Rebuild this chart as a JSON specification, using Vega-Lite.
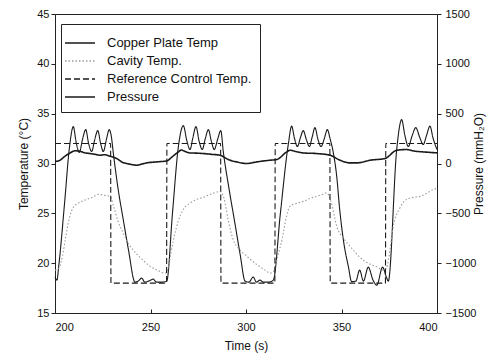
{
  "$schema": "https://vega.github.io/schema/vega-lite/v6.json",
  "width": 382,
  "height": 299,
  "autosize": {"type": "none"},
  "padding": {"left": 55, "top": 14, "right": 65, "bottom": 46},
  "background": "white",
  "config": {
    "font": "Liberation Sans",
    "view": {"stroke": "#222", "strokeWidth": 1},
    "axis": {"grid": false, "domainColor": "#222", "tickColor": "#222", "labelColor": "#111", "titleColor": "#111", "labelFontSize": 11, "titleFontSize": 12, "titleFontWeight": "normal"}
  },
  "datasets": {
    "temp": [
      {"series": "Copper Plate Temp", "time": 200, "value": 18.6},
      {"series": "Copper Plate Temp", "time": 201, "value": 18.3},
      {"series": "Copper Plate Temp", "time": 202, "value": 19.8},
      {"series": "Copper Plate Temp", "time": 205, "value": 26},
      {"series": "Copper Plate Temp", "time": 207.5, "value": 31.5},
      {"series": "Copper Plate Temp", "time": 209.6, "value": 33.7},
      {"series": "Copper Plate Temp", "time": 211, "value": 32.2},
      {"series": "Copper Plate Temp", "time": 212.7, "value": 31.1},
      {"series": "Copper Plate Temp", "time": 214.5, "value": 32.5},
      {"series": "Copper Plate Temp", "time": 216.1, "value": 33.4},
      {"series": "Copper Plate Temp", "time": 217.6, "value": 32},
      {"series": "Copper Plate Temp", "time": 219.2, "value": 31.2},
      {"series": "Copper Plate Temp", "time": 220.8, "value": 32.4},
      {"series": "Copper Plate Temp", "time": 222.4, "value": 33.3},
      {"series": "Copper Plate Temp", "time": 223.9, "value": 32},
      {"series": "Copper Plate Temp", "time": 225.3, "value": 31.2},
      {"series": "Copper Plate Temp", "time": 227, "value": 32.5},
      {"series": "Copper Plate Temp", "time": 228.4, "value": 33.4},
      {"series": "Copper Plate Temp", "time": 229.5, "value": 32.7},
      {"series": "Copper Plate Temp", "time": 230.5, "value": 31.1},
      {"series": "Copper Plate Temp", "time": 233, "value": 27.5},
      {"series": "Copper Plate Temp", "time": 235.8, "value": 24.3},
      {"series": "Copper Plate Temp", "time": 238.5, "value": 21.3},
      {"series": "Copper Plate Temp", "time": 241.9, "value": 18.1},
      {"series": "Copper Plate Temp", "time": 243.5, "value": 18.2},
      {"series": "Copper Plate Temp", "time": 245.4, "value": 18.5},
      {"series": "Copper Plate Temp", "time": 247, "value": 18.1},
      {"series": "Copper Plate Temp", "time": 249, "value": 18.2},
      {"series": "Copper Plate Temp", "time": 251.5, "value": 18.4},
      {"series": "Copper Plate Temp", "time": 253, "value": 18.1},
      {"series": "Copper Plate Temp", "time": 256, "value": 18.1},
      {"series": "Copper Plate Temp", "time": 258.5, "value": 18.2},
      {"series": "Copper Plate Temp", "time": 261.5, "value": 25},
      {"series": "Copper Plate Temp", "time": 264.6, "value": 31.7},
      {"series": "Copper Plate Temp", "time": 267.2, "value": 33.8},
      {"series": "Copper Plate Temp", "time": 269, "value": 32.3},
      {"series": "Copper Plate Temp", "time": 270.7, "value": 31.4},
      {"series": "Copper Plate Temp", "time": 272.2, "value": 32.6},
      {"series": "Copper Plate Temp", "time": 273.8, "value": 33.7},
      {"series": "Copper Plate Temp", "time": 275.5, "value": 32.2},
      {"series": "Copper Plate Temp", "time": 277.1, "value": 31.4},
      {"series": "Copper Plate Temp", "time": 278.7, "value": 32.5},
      {"series": "Copper Plate Temp", "time": 280.3, "value": 33.4},
      {"series": "Copper Plate Temp", "time": 281.9, "value": 32.2},
      {"series": "Copper Plate Temp", "time": 283.4, "value": 31.4},
      {"series": "Copper Plate Temp", "time": 285.1, "value": 32.4},
      {"series": "Copper Plate Temp", "time": 286.8, "value": 33.3},
      {"series": "Copper Plate Temp", "time": 288.1, "value": 31.2},
      {"series": "Copper Plate Temp", "time": 291, "value": 27.6},
      {"series": "Copper Plate Temp", "time": 294.2, "value": 24},
      {"series": "Copper Plate Temp", "time": 297, "value": 20.8},
      {"series": "Copper Plate Temp", "time": 299.5, "value": 18.2},
      {"series": "Copper Plate Temp", "time": 301.5, "value": 18.1},
      {"series": "Copper Plate Temp", "time": 303.8, "value": 18.6},
      {"series": "Copper Plate Temp", "time": 305.5, "value": 18.1},
      {"series": "Copper Plate Temp", "time": 307.3, "value": 18.3},
      {"series": "Copper Plate Temp", "time": 309, "value": 18.1},
      {"series": "Copper Plate Temp", "time": 312, "value": 18.1},
      {"series": "Copper Plate Temp", "time": 314.3, "value": 18.3},
      {"series": "Copper Plate Temp", "time": 318, "value": 25},
      {"series": "Copper Plate Temp", "time": 322.2, "value": 32},
      {"series": "Copper Plate Temp", "time": 323.9, "value": 33.75},
      {"series": "Copper Plate Temp", "time": 325.4, "value": 32.5},
      {"series": "Copper Plate Temp", "time": 326.9, "value": 31.7},
      {"series": "Copper Plate Temp", "time": 328.5, "value": 32.6},
      {"series": "Copper Plate Temp", "time": 330, "value": 33.3},
      {"series": "Copper Plate Temp", "time": 331.6, "value": 32.4},
      {"series": "Copper Plate Temp", "time": 333.2, "value": 31.7},
      {"series": "Copper Plate Temp", "time": 334.7, "value": 32.7},
      {"series": "Copper Plate Temp", "time": 336.1, "value": 33.6},
      {"series": "Copper Plate Temp", "time": 337.7, "value": 32.4},
      {"series": "Copper Plate Temp", "time": 339.3, "value": 31.7},
      {"series": "Copper Plate Temp", "time": 341, "value": 32.5},
      {"series": "Copper Plate Temp", "time": 342.6, "value": 33.4},
      {"series": "Copper Plate Temp", "time": 344, "value": 32.5},
      {"series": "Copper Plate Temp", "time": 345.7, "value": 31.1},
      {"series": "Copper Plate Temp", "time": 347.5, "value": 28.7},
      {"series": "Copper Plate Temp", "time": 349, "value": 25.5},
      {"series": "Copper Plate Temp", "time": 351, "value": 22.3},
      {"series": "Copper Plate Temp", "time": 353.6, "value": 19.65},
      {"series": "Copper Plate Temp", "time": 355.3, "value": 18.15},
      {"series": "Copper Plate Temp", "time": 357.5, "value": 18.2},
      {"series": "Copper Plate Temp", "time": 359.5, "value": 19.3},
      {"series": "Copper Plate Temp", "time": 361.5, "value": 18.2},
      {"series": "Copper Plate Temp", "time": 364, "value": 19.6},
      {"series": "Copper Plate Temp", "time": 366.5, "value": 18.3},
      {"series": "Copper Plate Temp", "time": 368.5, "value": 17.8},
      {"series": "Copper Plate Temp", "time": 371.5, "value": 19.6},
      {"series": "Copper Plate Temp", "time": 373.5, "value": 18.6},
      {"series": "Copper Plate Temp", "time": 374.5, "value": 18.2},
      {"series": "Copper Plate Temp", "time": 378.9, "value": 31.4},
      {"series": "Copper Plate Temp", "time": 381.5, "value": 34.4},
      {"series": "Copper Plate Temp", "time": 383.2, "value": 32.8},
      {"series": "Copper Plate Temp", "time": 385, "value": 31.7},
      {"series": "Copper Plate Temp", "time": 387, "value": 32.8},
      {"series": "Copper Plate Temp", "time": 388.9, "value": 33.6},
      {"series": "Copper Plate Temp", "time": 391, "value": 32.6},
      {"series": "Copper Plate Temp", "time": 392.8, "value": 31.9},
      {"series": "Copper Plate Temp", "time": 394.5, "value": 32.8},
      {"series": "Copper Plate Temp", "time": 396.3, "value": 33.75},
      {"series": "Copper Plate Temp", "time": 398, "value": 32.5},
      {"series": "Copper Plate Temp", "time": 400, "value": 31.4},

      {"series": "Cavity Temp.", "time": 200, "value": 19.3},
      {"series": "Cavity Temp.", "time": 202, "value": 19.5},
      {"series": "Cavity Temp.", "time": 204, "value": 20.8},
      {"series": "Cavity Temp.", "time": 205.5, "value": 22.5},
      {"series": "Cavity Temp.", "time": 207.5, "value": 24.5},
      {"series": "Cavity Temp.", "time": 209.6, "value": 25.6},
      {"series": "Cavity Temp.", "time": 213, "value": 26.1},
      {"series": "Cavity Temp.", "time": 216.6, "value": 26.4},
      {"series": "Cavity Temp.", "time": 219.5, "value": 26.6},
      {"series": "Cavity Temp.", "time": 222.7, "value": 26.9},
      {"series": "Cavity Temp.", "time": 226, "value": 26.8},
      {"series": "Cavity Temp.", "time": 228.8, "value": 26.7},
      {"series": "Cavity Temp.", "time": 231, "value": 25.5},
      {"series": "Cavity Temp.", "time": 233, "value": 24.2},
      {"series": "Cavity Temp.", "time": 235.8, "value": 23.0},
      {"series": "Cavity Temp.", "time": 238, "value": 22.1},
      {"series": "Cavity Temp.", "time": 241, "value": 21.3},
      {"series": "Cavity Temp.", "time": 245, "value": 20.5},
      {"series": "Cavity Temp.", "time": 249.7, "value": 19.7},
      {"series": "Cavity Temp.", "time": 253.5, "value": 19.3},
      {"series": "Cavity Temp.", "time": 257.6, "value": 19.0},
      {"series": "Cavity Temp.", "time": 259, "value": 19.3},
      {"series": "Cavity Temp.", "time": 260.5, "value": 20.8},
      {"series": "Cavity Temp.", "time": 262, "value": 22.3},
      {"series": "Cavity Temp.", "time": 264.5, "value": 24.2},
      {"series": "Cavity Temp.", "time": 267.2, "value": 25.4},
      {"series": "Cavity Temp.", "time": 270.5, "value": 26},
      {"series": "Cavity Temp.", "time": 274.2, "value": 26.4},
      {"series": "Cavity Temp.", "time": 277.5, "value": 26.6},
      {"series": "Cavity Temp.", "time": 281.2, "value": 26.9},
      {"series": "Cavity Temp.", "time": 284, "value": 27.1},
      {"series": "Cavity Temp.", "time": 286.4, "value": 27.2},
      {"series": "Cavity Temp.", "time": 288.5, "value": 26.5},
      {"series": "Cavity Temp.", "time": 290.5, "value": 24.5},
      {"series": "Cavity Temp.", "time": 293.4, "value": 22.3},
      {"series": "Cavity Temp.", "time": 296.5, "value": 21.4},
      {"series": "Cavity Temp.", "time": 300.4, "value": 20.7},
      {"series": "Cavity Temp.", "time": 304, "value": 20.1},
      {"series": "Cavity Temp.", "time": 307.3, "value": 19.65},
      {"series": "Cavity Temp.", "time": 310, "value": 19.3},
      {"series": "Cavity Temp.", "time": 312.6, "value": 19.0},
      {"series": "Cavity Temp.", "time": 314.5, "value": 19.2},
      {"series": "Cavity Temp.", "time": 316.5, "value": 20.6},
      {"series": "Cavity Temp.", "time": 319, "value": 22.5},
      {"series": "Cavity Temp.", "time": 321, "value": 24.5},
      {"series": "Cavity Temp.", "time": 323, "value": 25.7},
      {"series": "Cavity Temp.", "time": 326.5, "value": 26},
      {"series": "Cavity Temp.", "time": 330, "value": 26.2},
      {"series": "Cavity Temp.", "time": 333.5, "value": 26.5},
      {"series": "Cavity Temp.", "time": 337, "value": 26.7},
      {"series": "Cavity Temp.", "time": 340, "value": 26.9},
      {"series": "Cavity Temp.", "time": 342.3, "value": 27.05},
      {"series": "Cavity Temp.", "time": 344.5, "value": 26.2},
      {"series": "Cavity Temp.", "time": 347.5, "value": 23.7},
      {"series": "Cavity Temp.", "time": 351, "value": 22.5},
      {"series": "Cavity Temp.", "time": 354.5, "value": 21.7},
      {"series": "Cavity Temp.", "time": 358, "value": 20.9},
      {"series": "Cavity Temp.", "time": 361.4, "value": 20.3},
      {"series": "Cavity Temp.", "time": 365, "value": 19.9},
      {"series": "Cavity Temp.", "time": 368.4, "value": 19.65},
      {"series": "Cavity Temp.", "time": 371.9, "value": 19.3},
      {"series": "Cavity Temp.", "time": 373.5, "value": 19.5},
      {"series": "Cavity Temp.", "time": 375.5, "value": 21.5},
      {"series": "Cavity Temp.", "time": 377.1, "value": 23.7},
      {"series": "Cavity Temp.", "time": 380.5, "value": 25.5},
      {"series": "Cavity Temp.", "time": 384.1, "value": 26.4},
      {"series": "Cavity Temp.", "time": 387.5, "value": 26.6},
      {"series": "Cavity Temp.", "time": 391.1, "value": 26.7},
      {"series": "Cavity Temp.", "time": 394.5, "value": 27},
      {"series": "Cavity Temp.", "time": 398.1, "value": 27.4},
      {"series": "Cavity Temp.", "time": 400, "value": 27.5},

      {"series": "Reference Control Temp.", "time": 200, "value": 32},
      {"series": "Reference Control Temp.", "time": 229.1, "value": 32},
      {"series": "Reference Control Temp.", "time": 229.3, "value": 18},
      {"series": "Reference Control Temp.", "time": 258.4, "value": 18},
      {"series": "Reference Control Temp.", "time": 258.6, "value": 32},
      {"series": "Reference Control Temp.", "time": 286.7, "value": 32},
      {"series": "Reference Control Temp.", "time": 286.9, "value": 18},
      {"series": "Reference Control Temp.", "time": 315.1, "value": 18},
      {"series": "Reference Control Temp.", "time": 315.3, "value": 32},
      {"series": "Reference Control Temp.", "time": 343.9, "value": 32},
      {"series": "Reference Control Temp.", "time": 344.1, "value": 18},
      {"series": "Reference Control Temp.", "time": 373, "value": 18},
      {"series": "Reference Control Temp.", "time": 373.2, "value": 32},
      {"series": "Reference Control Temp.", "time": 400, "value": 32}
    ],
    "pressure": [
      {"series": "Pressure", "time": 200, "value": 20},
      {"series": "Pressure", "time": 202.6, "value": 33},
      {"series": "Pressure", "time": 205, "value": 70},
      {"series": "Pressure", "time": 207.9, "value": 106},
      {"series": "Pressure", "time": 210.5, "value": 128},
      {"series": "Pressure", "time": 213.1, "value": 122},
      {"series": "Pressure", "time": 215.5, "value": 108},
      {"series": "Pressure", "time": 218.3, "value": 100},
      {"series": "Pressure", "time": 221, "value": 92},
      {"series": "Pressure", "time": 223.6, "value": 83},
      {"series": "Pressure", "time": 226, "value": 88},
      {"series": "Pressure", "time": 228.8, "value": 73},
      {"series": "Pressure", "time": 232.3, "value": 50},
      {"series": "Pressure", "time": 234.9, "value": 16},
      {"series": "Pressure", "time": 239.3, "value": -7},
      {"series": "Pressure", "time": 242.8, "value": -17},
      {"series": "Pressure", "time": 245.5, "value": -5},
      {"series": "Pressure", "time": 248, "value": 6},
      {"series": "Pressure", "time": 253.2, "value": 16},
      {"series": "Pressure", "time": 258.5, "value": 26},
      {"series": "Pressure", "time": 261.5, "value": 70},
      {"series": "Pressure", "time": 264.6, "value": 116},
      {"series": "Pressure", "time": 266, "value": 135},
      {"series": "Pressure", "time": 268.5, "value": 118},
      {"series": "Pressure", "time": 270.7, "value": 106},
      {"series": "Pressure", "time": 274, "value": 104},
      {"series": "Pressure", "time": 277.6, "value": 100},
      {"series": "Pressure", "time": 282, "value": 92},
      {"series": "Pressure", "time": 286.4, "value": 83},
      {"series": "Pressure", "time": 290.7, "value": 40},
      {"series": "Pressure", "time": 295.1, "value": 16},
      {"series": "Pressure", "time": 300.4, "value": 0},
      {"series": "Pressure", "time": 305.6, "value": 16},
      {"series": "Pressure", "time": 312.6, "value": 33},
      {"series": "Pressure", "time": 316.1, "value": 40},
      {"series": "Pressure", "time": 321.3, "value": 116},
      {"series": "Pressure", "time": 323, "value": 133},
      {"series": "Pressure", "time": 326.5, "value": 118},
      {"series": "Pressure", "time": 330, "value": 106},
      {"series": "Pressure", "time": 337, "value": 100},
      {"series": "Pressure", "time": 344, "value": 83},
      {"series": "Pressure", "time": 349.2, "value": 33},
      {"series": "Pressure", "time": 354.5, "value": 6},
      {"series": "Pressure", "time": 358, "value": 6},
      {"series": "Pressure", "time": 364.9, "value": 33},
      {"series": "Pressure", "time": 372.8, "value": 50},
      {"series": "Pressure", "time": 378.9, "value": 133},
      {"series": "Pressure", "time": 384.1, "value": 140},
      {"series": "Pressure", "time": 388, "value": 125},
      {"series": "Pressure", "time": 392.8, "value": 116},
      {"series": "Pressure", "time": 396, "value": 112},
      {"series": "Pressure", "time": 400, "value": 106}
    ]
  },
  "encoding": {
    "x": {
      "field": "time", "type": "quantitative",
      "scale": {"domain": [200, 400], "nice": false},
      "axis": {"title": "Time (s)", "values": [200, 250, 300, 350, 400], "tickSize": -4, "labelPadding": 12, "titlePadding": 8}
    },
    "color": {
      "field": "series", "type": "nominal",
      "scale": {"domain": ["Copper Plate Temp", "Cavity Temp.", "Reference Control Temp.", "Pressure"], "range": ["#1a1a1a", "#9a9a9a", "#1a1a1a", "#1a1a1a"]},
      "legend": {"orient": "none", "legendX": 6, "legendY": 10, "title": null, "symbolType": "M-1.5,0H1.5", "symbolSize": 400, "symbolStrokeWidth": 1.3, "labelFontSize": 13, "labelColor": "#111", "strokeColor": "#222", "fillColor": "white", "padding": 8, "labelOffset": 16, "rowPadding": 0}
    },
    "strokeDash": {
      "field": "series", "type": "nominal",
      "scale": {"domain": ["Copper Plate Temp", "Cavity Temp.", "Reference Control Temp.", "Pressure"], "range": [[1, 0], [1.5, 2], [6, 3], [1, 0]]},
      "legend": {"orient": "none", "legendX": 6, "legendY": 10, "title": null, "symbolType": "M-1.5,0H1.5", "symbolSize": 400, "symbolStrokeWidth": 1.3, "labelFontSize": 13, "labelColor": "#111", "strokeColor": "#222", "fillColor": "white", "padding": 8, "labelOffset": 16, "rowPadding": 0}
    }
  },
  "layer": [
    {
      "data": {"name": "temp"},
      "mark": {"type": "line", "strokeWidth": 1.1, "interpolate": "monotone"},
      "encoding": {
        "y": {
          "field": "value", "type": "quantitative",
          "scale": {"domain": [15, 45], "nice": false},
          "axis": {"title": "Temperature (°C)", "values": [15, 20, 25, 30, 35, 40, 45], "tickSize": 4, "labelPadding": 2, "titlePadding": 6}
        }
      }
    },
    {
      "data": {"name": "pressure"},
      "mark": {"type": "line", "strokeWidth": 1.6, "interpolate": "monotone"},
      "encoding": {
        "y": {
          "field": "value", "type": "quantitative",
          "scale": {"domain": [-1500, 1500], "nice": false},
          "axis": {"orient": "right", "title": "Pressure (mmH₂O)", "format": "d", "values": [-1500, -1000, -500, 0, 500, 1000, 1500], "tickSize": 4, "labelPadding": 4, "titlePadding": 10, "titleAngle": 270}
        }
      }
    }
  ],
  "resolve": {"scale": {"y": "independent"}}
}
